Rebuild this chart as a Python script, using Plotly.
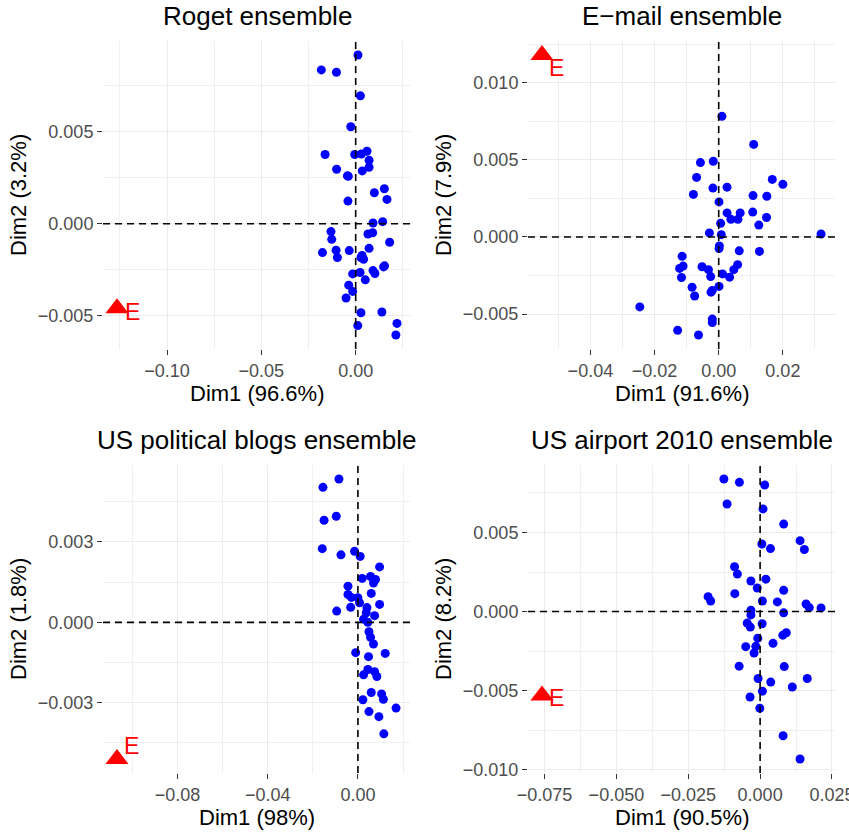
import numpy as np
import plotly.graph_objects as go

# ---------------- data ----------------
titles = ["Roget ensemble", "E\u2212mail ensemble",
          "US political blogs ensemble", "US airport 2010 ensemble"]
x_titles = ["Dim1 (96.6%)", "Dim1 (91.6%)", "Dim1 (98%)", "Dim1 (90.5%)"]
y_titles = ["Dim2 (3.2%)", "Dim2 (7.9%)", "Dim2 (1.8%)", "Dim2 (8.2%)"]

roget_x = [0.0012, -0.0182, -0.0102, 0.0025, -0.0026, -0.0162, -0.0005, 0.0030, 0.0060, 0.0071,
           0.0071, 0.0035, -0.0101, -0.0044, -0.0039, 0.0152, 0.0099, 0.0166, -0.0041, 0.0092,
           0.0143, -0.0131, -0.0127, 0.0090, 0.0065, 0.0180, 0.0071, -0.0176, -0.0104, -0.0097,
           -0.0034, 0.0034, 0.0042, 0.0028, 0.0153, 0.0148, 0.0092, 0.0102, 0.0023, -0.0016,
           0.0051, -0.0037, -0.0016, -0.0051, 0.0028, 0.0139, 0.0011, 0.0219, 0.0213]
roget_y = [0.00917, 0.00836, 0.00823, 0.00695, 0.00527, 0.00376, 0.00376, 0.00379, 0.00394, 0.00345,
           0.00307, 0.00287, 0.00296, 0.00260, 0.00258, 0.00190, 0.00168, 0.00132, 0.00123, 0.00004,
           0.00011, -0.00043, -0.00085, -0.00049, -0.00056, -0.00101, -0.00134, -0.00157, -0.00144, -0.00184,
           -0.00146, -0.00173, -0.00193, -0.00184, -0.00229, -0.00235, -0.00255, -0.00271, -0.00265, -0.00273,
           -0.00305, -0.00334, -0.00368, -0.00404, -0.00484, -0.00480, -0.00554, -0.00542, -0.00605]

email_x = [0.0010, 0.0109, -0.0057, -0.0017, -0.0069, -0.0018, 0.0026, 0.0167, 0.0200, -0.0079,
           0.0107, 0.0150, 0.0001, 0.0026, 0.0067, 0.0038, 0.0060, 0.0106, 0.0149, 0.0125,
           0.0006, -0.0029, 0.0008, 0.0319, 0.0002, 0.0001, 0.0064, 0.0127, -0.0114, -0.0111,
           -0.0122, -0.0116, -0.0052, -0.0032, -0.0025, 0.0012, 0.0034, 0.0047, 0.0059, 0.0001,
           -0.0083, -0.0075, -0.0024, -0.0020, -0.0246, -0.0020, -0.0020, -0.0128, -0.0063]
email_y = [0.00782, 0.00600, 0.00482, 0.00491, 0.00386, 0.00317, 0.00323, 0.00373, 0.00341, 0.00276,
           0.00268, 0.00264, 0.00227, 0.00156, 0.00156, 0.00114, 0.00114, 0.00161, 0.00126, 0.00077,
           0.00088, 0.00026, 0.00015, 0.00019, -0.00058, -0.00075, -0.00090, -0.00094, -0.00126, -0.00189,
           -0.00204, -0.00263, -0.00193, -0.00212, -0.00257, -0.00240, -0.00261, -0.00212, -0.00180, -0.00321,
           -0.00326, -0.00383, -0.00358, -0.00347, -0.00454, -0.00533, -0.00555, -0.00606, -0.00636]

blogs_x = [-0.0084, -0.0155, -0.0150, -0.0096, -0.0158, -0.0075, -0.0015, 0.0010, 0.0096, 0.0019,
           0.0056, 0.0078, 0.0069, -0.0044, 0.0059, -0.0044, -0.0029, 0.0000, 0.0007, -0.0032,
           -0.0094, 0.0040, 0.0096, 0.0037, 0.0074, 0.0025, 0.0044, 0.0049, 0.0056, 0.0069,
           -0.0010, 0.0121, 0.0047, 0.0044, 0.0025, 0.0074, 0.0084, 0.0059, 0.0105, 0.0113,
           0.0022, 0.0169, 0.0049, 0.0093, 0.0115]
blogs_y = [0.00535, 0.00504, 0.00381, 0.00396, 0.00275, 0.00252, 0.00265, 0.00246, 0.00207, 0.00164,
           0.00171, 0.00160, 0.00147, 0.00135, 0.00108, 0.00104, 0.00093, 0.00092, 0.00073, 0.00056,
           0.00042, 0.00055, 0.00067, 0.00036, 0.00025, 0.00012, 0.00000, -0.00035, -0.00056, -0.00081,
           -0.00113, -0.00116, -0.00128, -0.00176, -0.00196, -0.00184, -0.00202, -0.00262, -0.00267, -0.00287,
           -0.00289, -0.00320, -0.00333, -0.00352, -0.00416]

airport_x = [-0.0126, -0.0072, 0.0016, -0.0115, 0.0010, 0.0082, 0.0006, 0.0036, 0.0139, 0.0154,
             -0.0089, -0.0079, -0.0032, 0.0020, -0.0010, 0.0082, -0.0181, -0.0172, -0.0088, 0.0008,
             0.0060, 0.0160, 0.0171, 0.0212, -0.0032, -0.0032, 0.0082, -0.0045, -0.0034, 0.0007,
             -0.0008, 0.0079, 0.0091, 0.0045, -0.0050, -0.0015, -0.0021, -0.0073, 0.0084, -0.0007,
             0.0037, 0.0164, 0.0112, 0.0008, -0.0035, -0.0001, 0.0080, 0.0139]
airport_y = [0.00838, 0.00817, 0.00800, 0.00680, 0.00649, 0.00553, 0.00427, 0.00398, 0.00448, 0.00392,
             0.00283, 0.00237, 0.00193, 0.00205, 0.00149, 0.00134, 0.00094, 0.00067, 0.00113, 0.00067,
             0.00061, 0.00048, 0.00025, 0.00023, 0.00008, -0.00021, -0.00008, -0.00073, -0.00098, -0.00077,
             -0.00168, -0.00149, -0.00134, -0.00201, -0.00222, -0.00220, -0.00262, -0.00345, -0.00348, -0.00423,
             -0.00446, -0.00423, -0.00477, -0.00503, -0.00540, -0.00611, -0.00785, -0.00932]

e_x = [-0.1265, -0.0551, -0.1068, -0.0759]
e_y = [-0.0046, 0.0118, -0.0051, -0.0053]

x_dticks = [0.05, 0.02, 0.04, 0.025]
y_dticks = [0.005, 0.005, 0.003, 0.005]
x_formats = [".2f", ".2f", ".2f", ".3f"]

# ---------------- layout ----------------
W, H = 849, 833
panels_px = [(103, 411, 41, 349), (528, 835, 41, 349),
             (103, 410, 465, 773), (528, 835, 465, 773)]
label_shift = [(15, -4), (15, -13), (15, 13), (15, -3)]

xs = [roget_x, email_x, blogs_x, airport_x]
ys = [roget_y, email_y, blogs_y, airport_y]

FONT = "Liberation Sans, Arial, Helvetica, sans-serif"
fig = go.Figure()
layout = dict(width=W, height=H, margin=dict(l=0, r=0, t=0, b=0, autoexpand=False),
              paper_bgcolor="white", plot_bgcolor="white", showlegend=False,
              font=dict(family=FONT), annotations=[], shapes=[])

for i in range(4):
    k = "" if i == 0 else str(i + 1)
    xa, ya = "x" + k, "y" + k
    x0p, x1p, y0p, y1p = panels_px[i]
    allx = np.array(xs[i] + [e_x[i]])
    ally = np.array(ys[i] + [e_y[i]])
    rx = allx.max() - allx.min()
    ry = ally.max() - ally.min()
    xr = [allx.min() - 0.05 * rx, allx.max() + 0.05 * rx]
    yr = [ally.min() - 0.05 * ry, ally.max() + 0.05 * ry]

    fig.add_trace(go.Scatter(x=xs[i], y=ys[i], mode="markers", xaxis=xa, yaxis=ya,
                             marker=dict(color="#0000FF", size=9, line=dict(width=0)),
                             hoverinfo="skip"))
    fig.add_trace(go.Scatter(x=[e_x[i]], y=[e_y[i]], mode="markers", xaxis=xa, yaxis=ya,
                             marker=dict(color="#FF0000", size=20, symbol="triangle-up",
                                         line=dict(width=0)),
                             hoverinfo="skip", cliponaxis=False))

    common = dict(showline=False, zeroline=False, showgrid=True, gridcolor="#EBEBEB",
                  gridwidth=1.3, ticks="outside", ticklen=5, tickwidth=1.2,
                  tickcolor="#333333", tick0=0, ticklabeloverflow="allow", automargin=False,
                  tickfont=dict(size=18, color="#4D4D4D", family=FONT),
                  minor=dict(showgrid=True, gridcolor="#EFEFEF", gridwidth=0.8, ticks=""))
    layout["xaxis" + k] = dict(common, domain=[x0p / W, x1p / W], range=xr, anchor=ya,
                               dtick=x_dticks[i], tickformat=x_formats[i],
                               minor=dict(common["minor"], dtick=x_dticks[i] / 2, tick0=0))
    layout["yaxis" + k] = dict(common, domain=[1 - y1p / H, 1 - y0p / H], range=yr, anchor=xa,
                               dtick=y_dticks[i], tickformat=".3f",
                               minor=dict(common["minor"], dtick=y_dticks[i] / 2, tick0=0))
    # dashed reference lines
    layout["shapes"].append(dict(type="line", xref=xa + " domain", yref=ya, x0=0, x1=1,
                                 y0=0, y1=0, line=dict(color="black", width=1.6, dash="7px,5px"),
                                 layer="above"))
    layout["shapes"].append(dict(type="line", xref=xa, yref=ya + " domain", x0=0, x1=0,
                                 y0=0, y1=1, line=dict(color="black", width=1.6, dash="7px,5px"),
                                 layer="above"))
    # E label
    layout["annotations"].append(dict(x=e_x[i], y=e_y[i], xref=xa, yref=ya, text="E",
                                      showarrow=False, xanchor="center", yanchor="middle",
                                      xshift=label_shift[i][0], yshift=label_shift[i][1],
                                      font=dict(size=23, color="#FF0000", family=FONT)))
    # panel title
    cx = (x0p + x1p) / 2
    layout["annotations"].append(dict(x=cx / W, y=1 - (y0p - 25) / H,
                                      xref="paper", yref="paper", text=titles[i],
                                      showarrow=False, xanchor="center", yanchor="middle",
                                      font=dict(size=26, color="black", family=FONT)))
    # axis titles
    layout["annotations"].append(dict(x=cx / W, y=1 - (y1p + 44) / H,
                                      xref="paper", yref="paper", text=x_titles[i],
                                      showarrow=False, xanchor="center", yanchor="middle",
                                      font=dict(size=22, color="black", family=FONT)))
    layout["annotations"].append(dict(x=(x0p - 85) / W, y=1 - (y0p + y1p) / 2 / H,
                                      xref="paper", yref="paper", text=y_titles[i],
                                      textangle=-90,
                                      showarrow=False, xanchor="center", yanchor="middle",
                                      font=dict(size=22, color="black", family=FONT)))

fig.update_layout(**layout)
fig.write_html("out.html")
